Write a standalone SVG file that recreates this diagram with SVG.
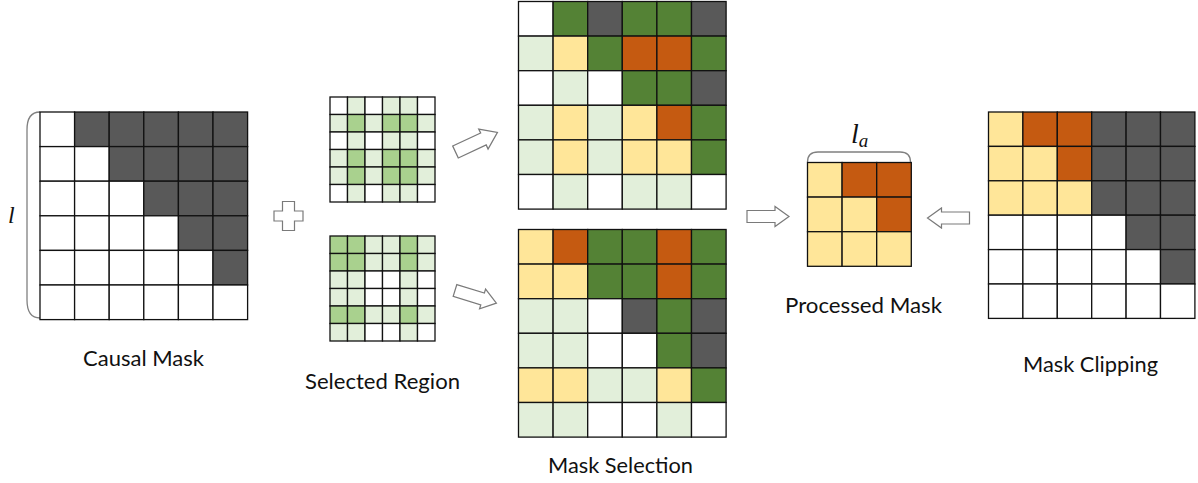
<svg xmlns="http://www.w3.org/2000/svg" xmlns:xlink="http://www.w3.org/1999/xlink" width="1198" height="483" viewBox="0 0 1198 483">
<style>
.grid rect{stroke:#111;stroke-width:1.3}
.w{fill:#ffffff}.k{fill:#595959}.d{fill:#548235}.o{fill:#c55a11}.y{fill:#ffe699}.l{fill:#e2efda}.m{fill:#a9d18e}
.lbl{font-family:Lato,"Liberation Sans",sans-serif;font-size:22px;fill:#111}
.arrow{fill:#fff;stroke:#7a7a7a;stroke-width:1.2;stroke-linejoin:miter}
.brace{fill:none;stroke:#808080;stroke-width:1.3}
.math{font-family:"Liberation Serif",serif;font-style:italic;fill:#111}
</style>
<defs>
<path id="arr" d="M0,-6 H28 V-10 L42,0 L28,10 V6 H0 Z"/>
</defs>
<rect width="1198" height="483" fill="#fff"/>

<g id="causal-mask">
<path class="brace" d="M40,112 C31,112 27,118 27,130 V300 C27,312 31,318 40,318"/>
<text class="math" x="8" y="223" font-size="24">l</text>
<g class="grid" transform="translate(40,112)">
<rect class="w" x="0" y="0" width="34.6" height="34.6"/><rect class="k" x="34.6" y="0" width="34.6" height="34.6"/><rect class="k" x="69.2" y="0" width="34.6" height="34.6"/><rect class="k" x="103.8" y="0" width="34.6" height="34.6"/><rect class="k" x="138.4" y="0" width="34.6" height="34.6"/><rect class="k" x="173" y="0" width="34.6" height="34.6"/>
<rect class="w" x="0" y="34.6" width="34.6" height="34.6"/><rect class="w" x="34.6" y="34.6" width="34.6" height="34.6"/><rect class="k" x="69.2" y="34.6" width="34.6" height="34.6"/><rect class="k" x="103.8" y="34.6" width="34.6" height="34.6"/><rect class="k" x="138.4" y="34.6" width="34.6" height="34.6"/><rect class="k" x="173" y="34.6" width="34.6" height="34.6"/>
<rect class="w" x="0" y="69.2" width="34.6" height="34.6"/><rect class="w" x="34.6" y="69.2" width="34.6" height="34.6"/><rect class="w" x="69.2" y="69.2" width="34.6" height="34.6"/><rect class="k" x="103.8" y="69.2" width="34.6" height="34.6"/><rect class="k" x="138.4" y="69.2" width="34.6" height="34.6"/><rect class="k" x="173" y="69.2" width="34.6" height="34.6"/>
<rect class="w" x="0" y="103.8" width="34.6" height="34.6"/><rect class="w" x="34.6" y="103.8" width="34.6" height="34.6"/><rect class="w" x="69.2" y="103.8" width="34.6" height="34.6"/><rect class="w" x="103.8" y="103.8" width="34.6" height="34.6"/><rect class="k" x="138.4" y="103.8" width="34.6" height="34.6"/><rect class="k" x="173" y="103.8" width="34.6" height="34.6"/>
<rect class="w" x="0" y="138.4" width="34.6" height="34.6"/><rect class="w" x="34.6" y="138.4" width="34.6" height="34.6"/><rect class="w" x="69.2" y="138.4" width="34.6" height="34.6"/><rect class="w" x="103.8" y="138.4" width="34.6" height="34.6"/><rect class="w" x="138.4" y="138.4" width="34.6" height="34.6"/><rect class="k" x="173" y="138.4" width="34.6" height="34.6"/>
<rect class="w" x="0" y="173" width="34.6" height="34.6"/><rect class="w" x="34.6" y="173" width="34.6" height="34.6"/><rect class="w" x="69.2" y="173" width="34.6" height="34.6"/><rect class="w" x="103.8" y="173" width="34.6" height="34.6"/><rect class="w" x="138.4" y="173" width="34.6" height="34.6"/><rect class="w" x="173" y="173" width="34.6" height="34.6"/>
</g>
<text class="lbl" x="83" y="366" textLength="121" lengthAdjust="spacingAndGlyphs">Causal Mask</text>
</g>

<g id="plus">
<path class="arrow" d="M282.5,201.5 h12 v9.5 h8.5 v10 h-8.5 v9.5 h-12 v-9.5 h-8.5 v-10 h8.5 z"/>
</g>

<g id="selected-region">
<g class="grid" transform="translate(330,97)">
<rect class="w" x="0" y="0" width="17.5" height="17.5"/><rect class="l" x="17.5" y="0" width="17.5" height="17.5"/><rect class="w" x="35" y="0" width="17.5" height="17.5"/><rect class="l" x="52.5" y="0" width="17.5" height="17.5"/><rect class="l" x="70" y="0" width="17.5" height="17.5"/><rect class="w" x="87.5" y="0" width="17.5" height="17.5"/>
<rect class="l" x="0" y="17.5" width="17.5" height="17.5"/><rect class="m" x="17.5" y="17.5" width="17.5" height="17.5"/><rect class="l" x="35" y="17.5" width="17.5" height="17.5"/><rect class="m" x="52.5" y="17.5" width="17.5" height="17.5"/><rect class="m" x="70" y="17.5" width="17.5" height="17.5"/><rect class="l" x="87.5" y="17.5" width="17.5" height="17.5"/>
<rect class="w" x="0" y="35" width="17.5" height="17.5"/><rect class="l" x="17.5" y="35" width="17.5" height="17.5"/><rect class="w" x="35" y="35" width="17.5" height="17.5"/><rect class="l" x="52.5" y="35" width="17.5" height="17.5"/><rect class="l" x="70" y="35" width="17.5" height="17.5"/><rect class="w" x="87.5" y="35" width="17.5" height="17.5"/>
<rect class="l" x="0" y="52.5" width="17.5" height="17.5"/><rect class="m" x="17.5" y="52.5" width="17.5" height="17.5"/><rect class="l" x="35" y="52.5" width="17.5" height="17.5"/><rect class="m" x="52.5" y="52.5" width="17.5" height="17.5"/><rect class="m" x="70" y="52.5" width="17.5" height="17.5"/><rect class="l" x="87.5" y="52.5" width="17.5" height="17.5"/>
<rect class="l" x="0" y="70" width="17.5" height="17.5"/><rect class="m" x="17.5" y="70" width="17.5" height="17.5"/><rect class="l" x="35" y="70" width="17.5" height="17.5"/><rect class="m" x="52.5" y="70" width="17.5" height="17.5"/><rect class="m" x="70" y="70" width="17.5" height="17.5"/><rect class="l" x="87.5" y="70" width="17.5" height="17.5"/>
<rect class="w" x="0" y="87.5" width="17.5" height="17.5"/><rect class="l" x="17.5" y="87.5" width="17.5" height="17.5"/><rect class="w" x="35" y="87.5" width="17.5" height="17.5"/><rect class="l" x="52.5" y="87.5" width="17.5" height="17.5"/><rect class="l" x="70" y="87.5" width="17.5" height="17.5"/><rect class="w" x="87.5" y="87.5" width="17.5" height="17.5"/>
</g>
<g class="grid" transform="translate(330,236)">
<rect class="m" x="0" y="0" width="17.5" height="17.5"/><rect class="m" x="17.5" y="0" width="17.5" height="17.5"/><rect class="l" x="35" y="0" width="17.5" height="17.5"/><rect class="l" x="52.5" y="0" width="17.5" height="17.5"/><rect class="m" x="70" y="0" width="17.5" height="17.5"/><rect class="l" x="87.5" y="0" width="17.5" height="17.5"/>
<rect class="m" x="0" y="17.5" width="17.5" height="17.5"/><rect class="m" x="17.5" y="17.5" width="17.5" height="17.5"/><rect class="l" x="35" y="17.5" width="17.5" height="17.5"/><rect class="l" x="52.5" y="17.5" width="17.5" height="17.5"/><rect class="m" x="70" y="17.5" width="17.5" height="17.5"/><rect class="l" x="87.5" y="17.5" width="17.5" height="17.5"/>
<rect class="l" x="0" y="35" width="17.5" height="17.5"/><rect class="l" x="17.5" y="35" width="17.5" height="17.5"/><rect class="w" x="35" y="35" width="17.5" height="17.5"/><rect class="w" x="52.5" y="35" width="17.5" height="17.5"/><rect class="l" x="70" y="35" width="17.5" height="17.5"/><rect class="w" x="87.5" y="35" width="17.5" height="17.5"/>
<rect class="l" x="0" y="52.5" width="17.5" height="17.5"/><rect class="l" x="17.5" y="52.5" width="17.5" height="17.5"/><rect class="w" x="35" y="52.5" width="17.5" height="17.5"/><rect class="w" x="52.5" y="52.5" width="17.5" height="17.5"/><rect class="l" x="70" y="52.5" width="17.5" height="17.5"/><rect class="w" x="87.5" y="52.5" width="17.5" height="17.5"/>
<rect class="m" x="0" y="70" width="17.5" height="17.5"/><rect class="m" x="17.5" y="70" width="17.5" height="17.5"/><rect class="l" x="35" y="70" width="17.5" height="17.5"/><rect class="l" x="52.5" y="70" width="17.5" height="17.5"/><rect class="m" x="70" y="70" width="17.5" height="17.5"/><rect class="l" x="87.5" y="70" width="17.5" height="17.5"/>
<rect class="l" x="0" y="87.5" width="17.5" height="17.5"/><rect class="l" x="17.5" y="87.5" width="17.5" height="17.5"/><rect class="w" x="35" y="87.5" width="17.5" height="17.5"/><rect class="w" x="52.5" y="87.5" width="17.5" height="17.5"/><rect class="l" x="70" y="87.5" width="17.5" height="17.5"/><rect class="w" x="87.5" y="87.5" width="17.5" height="17.5"/>
</g>
<text class="lbl" x="305" y="389" textLength="155" lengthAdjust="spacingAndGlyphs">Selected Region</text>
</g>

<g id="mask-selection">
<g class="grid" transform="translate(518.5,1.5)">
<rect class="w" x="0" y="0" width="34.6" height="34.6"/><rect class="d" x="34.6" y="0" width="34.6" height="34.6"/><rect class="k" x="69.2" y="0" width="34.6" height="34.6"/><rect class="d" x="103.8" y="0" width="34.6" height="34.6"/><rect class="d" x="138.4" y="0" width="34.6" height="34.6"/><rect class="k" x="173" y="0" width="34.6" height="34.6"/>
<rect class="l" x="0" y="34.6" width="34.6" height="34.6"/><rect class="y" x="34.6" y="34.6" width="34.6" height="34.6"/><rect class="d" x="69.2" y="34.6" width="34.6" height="34.6"/><rect class="o" x="103.8" y="34.6" width="34.6" height="34.6"/><rect class="o" x="138.4" y="34.6" width="34.6" height="34.6"/><rect class="d" x="173" y="34.6" width="34.6" height="34.6"/>
<rect class="w" x="0" y="69.2" width="34.6" height="34.6"/><rect class="l" x="34.6" y="69.2" width="34.6" height="34.6"/><rect class="w" x="69.2" y="69.2" width="34.6" height="34.6"/><rect class="d" x="103.8" y="69.2" width="34.6" height="34.6"/><rect class="d" x="138.4" y="69.2" width="34.6" height="34.6"/><rect class="k" x="173" y="69.2" width="34.6" height="34.6"/>
<rect class="l" x="0" y="103.8" width="34.6" height="34.6"/><rect class="y" x="34.6" y="103.8" width="34.6" height="34.6"/><rect class="l" x="69.2" y="103.8" width="34.6" height="34.6"/><rect class="y" x="103.8" y="103.8" width="34.6" height="34.6"/><rect class="o" x="138.4" y="103.8" width="34.6" height="34.6"/><rect class="d" x="173" y="103.8" width="34.6" height="34.6"/>
<rect class="l" x="0" y="138.4" width="34.6" height="34.6"/><rect class="y" x="34.6" y="138.4" width="34.6" height="34.6"/><rect class="l" x="69.2" y="138.4" width="34.6" height="34.6"/><rect class="y" x="103.8" y="138.4" width="34.6" height="34.6"/><rect class="y" x="138.4" y="138.4" width="34.6" height="34.6"/><rect class="d" x="173" y="138.4" width="34.6" height="34.6"/>
<rect class="w" x="0" y="173" width="34.6" height="34.6"/><rect class="l" x="34.6" y="173" width="34.6" height="34.6"/><rect class="w" x="69.2" y="173" width="34.6" height="34.6"/><rect class="l" x="103.8" y="173" width="34.6" height="34.6"/><rect class="l" x="138.4" y="173" width="34.6" height="34.6"/><rect class="w" x="173" y="173" width="34.6" height="34.6"/>
</g>
<g class="grid" transform="translate(518.5,229.5)">
<rect class="y" x="0" y="0" width="34.6" height="34.6"/><rect class="o" x="34.6" y="0" width="34.6" height="34.6"/><rect class="d" x="69.2" y="0" width="34.6" height="34.6"/><rect class="d" x="103.8" y="0" width="34.6" height="34.6"/><rect class="o" x="138.4" y="0" width="34.6" height="34.6"/><rect class="d" x="173" y="0" width="34.6" height="34.6"/>
<rect class="y" x="0" y="34.6" width="34.6" height="34.6"/><rect class="y" x="34.6" y="34.6" width="34.6" height="34.6"/><rect class="d" x="69.2" y="34.6" width="34.6" height="34.6"/><rect class="d" x="103.8" y="34.6" width="34.6" height="34.6"/><rect class="o" x="138.4" y="34.6" width="34.6" height="34.6"/><rect class="d" x="173" y="34.6" width="34.6" height="34.6"/>
<rect class="l" x="0" y="69.2" width="34.6" height="34.6"/><rect class="l" x="34.6" y="69.2" width="34.6" height="34.6"/><rect class="w" x="69.2" y="69.2" width="34.6" height="34.6"/><rect class="k" x="103.8" y="69.2" width="34.6" height="34.6"/><rect class="d" x="138.4" y="69.2" width="34.6" height="34.6"/><rect class="k" x="173" y="69.2" width="34.6" height="34.6"/>
<rect class="l" x="0" y="103.8" width="34.6" height="34.6"/><rect class="l" x="34.6" y="103.8" width="34.6" height="34.6"/><rect class="w" x="69.2" y="103.8" width="34.6" height="34.6"/><rect class="w" x="103.8" y="103.8" width="34.6" height="34.6"/><rect class="d" x="138.4" y="103.8" width="34.6" height="34.6"/><rect class="k" x="173" y="103.8" width="34.6" height="34.6"/>
<rect class="y" x="0" y="138.4" width="34.6" height="34.6"/><rect class="y" x="34.6" y="138.4" width="34.6" height="34.6"/><rect class="l" x="69.2" y="138.4" width="34.6" height="34.6"/><rect class="l" x="103.8" y="138.4" width="34.6" height="34.6"/><rect class="y" x="138.4" y="138.4" width="34.6" height="34.6"/><rect class="d" x="173" y="138.4" width="34.6" height="34.6"/>
<rect class="l" x="0" y="173" width="34.6" height="34.6"/><rect class="l" x="34.6" y="173" width="34.6" height="34.6"/><rect class="w" x="69.2" y="173" width="34.6" height="34.6"/><rect class="w" x="103.8" y="173" width="34.6" height="34.6"/><rect class="l" x="138.4" y="173" width="34.6" height="34.6"/><rect class="w" x="173" y="173" width="34.6" height="34.6"/>
</g>
<text class="lbl" x="548" y="473" textLength="145" lengthAdjust="spacingAndGlyphs">Mask Selection</text>
</g>

<g id="processed-mask">
<path class="brace" d="M807.5,162 C807.5,155 811,152 818,152 H900 C907,152 910.5,155 910.5,162"/>
<text class="math" x="851" y="143" font-size="28">l<tspan font-size="19" dy="4">a</tspan></text>
<g class="grid" transform="translate(807.5,162.5)">
<rect class="y" x="0" y="0" width="34.6" height="34.6"/><rect class="o" x="34.6" y="0" width="34.6" height="34.6"/><rect class="o" x="69.2" y="0" width="34.6" height="34.6"/>
<rect class="y" x="0" y="34.6" width="34.6" height="34.6"/><rect class="y" x="34.6" y="34.6" width="34.6" height="34.6"/><rect class="o" x="69.2" y="34.6" width="34.6" height="34.6"/>
<rect class="y" x="0" y="69.2" width="34.6" height="34.6"/><rect class="y" x="34.6" y="69.2" width="34.6" height="34.6"/><rect class="y" x="69.2" y="69.2" width="34.6" height="34.6"/>
</g>
<text class="lbl" x="785" y="313" textLength="157" lengthAdjust="spacingAndGlyphs">Processed Mask</text>
</g>

<g id="mask-clipping">
<g class="grid" transform="translate(988.5,112)">
<rect class="y" x="0" y="0" width="34.4" height="34.4"/><rect class="o" x="34.4" y="0" width="34.4" height="34.4"/><rect class="o" x="68.8" y="0" width="34.4" height="34.4"/><rect class="k" x="103.2" y="0" width="34.4" height="34.4"/><rect class="k" x="137.6" y="0" width="34.4" height="34.4"/><rect class="k" x="172" y="0" width="34.4" height="34.4"/>
<rect class="y" x="0" y="34.4" width="34.4" height="34.4"/><rect class="y" x="34.4" y="34.4" width="34.4" height="34.4"/><rect class="o" x="68.8" y="34.4" width="34.4" height="34.4"/><rect class="k" x="103.2" y="34.4" width="34.4" height="34.4"/><rect class="k" x="137.6" y="34.4" width="34.4" height="34.4"/><rect class="k" x="172" y="34.4" width="34.4" height="34.4"/>
<rect class="y" x="0" y="68.8" width="34.4" height="34.4"/><rect class="y" x="34.4" y="68.8" width="34.4" height="34.4"/><rect class="y" x="68.8" y="68.8" width="34.4" height="34.4"/><rect class="k" x="103.2" y="68.8" width="34.4" height="34.4"/><rect class="k" x="137.6" y="68.8" width="34.4" height="34.4"/><rect class="k" x="172" y="68.8" width="34.4" height="34.4"/>
<rect class="w" x="0" y="103.2" width="34.4" height="34.4"/><rect class="w" x="34.4" y="103.2" width="34.4" height="34.4"/><rect class="w" x="68.8" y="103.2" width="34.4" height="34.4"/><rect class="w" x="103.2" y="103.2" width="34.4" height="34.4"/><rect class="k" x="137.6" y="103.2" width="34.4" height="34.4"/><rect class="k" x="172" y="103.2" width="34.4" height="34.4"/>
<rect class="w" x="0" y="137.6" width="34.4" height="34.4"/><rect class="w" x="34.4" y="137.6" width="34.4" height="34.4"/><rect class="w" x="68.8" y="137.6" width="34.4" height="34.4"/><rect class="w" x="103.2" y="137.6" width="34.4" height="34.4"/><rect class="w" x="137.6" y="137.6" width="34.4" height="34.4"/><rect class="k" x="172" y="137.6" width="34.4" height="34.4"/>
<rect class="w" x="0" y="172" width="34.4" height="34.4"/><rect class="w" x="34.4" y="172" width="34.4" height="34.4"/><rect class="w" x="68.8" y="172" width="34.4" height="34.4"/><rect class="w" x="103.2" y="172" width="34.4" height="34.4"/><rect class="w" x="137.6" y="172" width="34.4" height="34.4"/><rect class="w" x="172" y="172" width="34.4" height="34.4"/>
</g>
<text class="lbl" x="1023" y="372" textLength="135" lengthAdjust="spacingAndGlyphs">Mask Clipping</text>
</g>

<g id="connectors">
<use xlink:href="#arr" href="#arr" class="arrow" transform="translate(455.5,152) rotate(-25) scale(1.1)"/>
<use xlink:href="#arr" href="#arr" class="arrow" transform="translate(455,290.5) rotate(17) scale(1.03)"/>
<use xlink:href="#arr" href="#arr" class="arrow" transform="translate(747,216.5)"/>
<use xlink:href="#arr" href="#arr" class="arrow" transform="translate(969.5,218) rotate(180)"/>
</g>
</svg>
